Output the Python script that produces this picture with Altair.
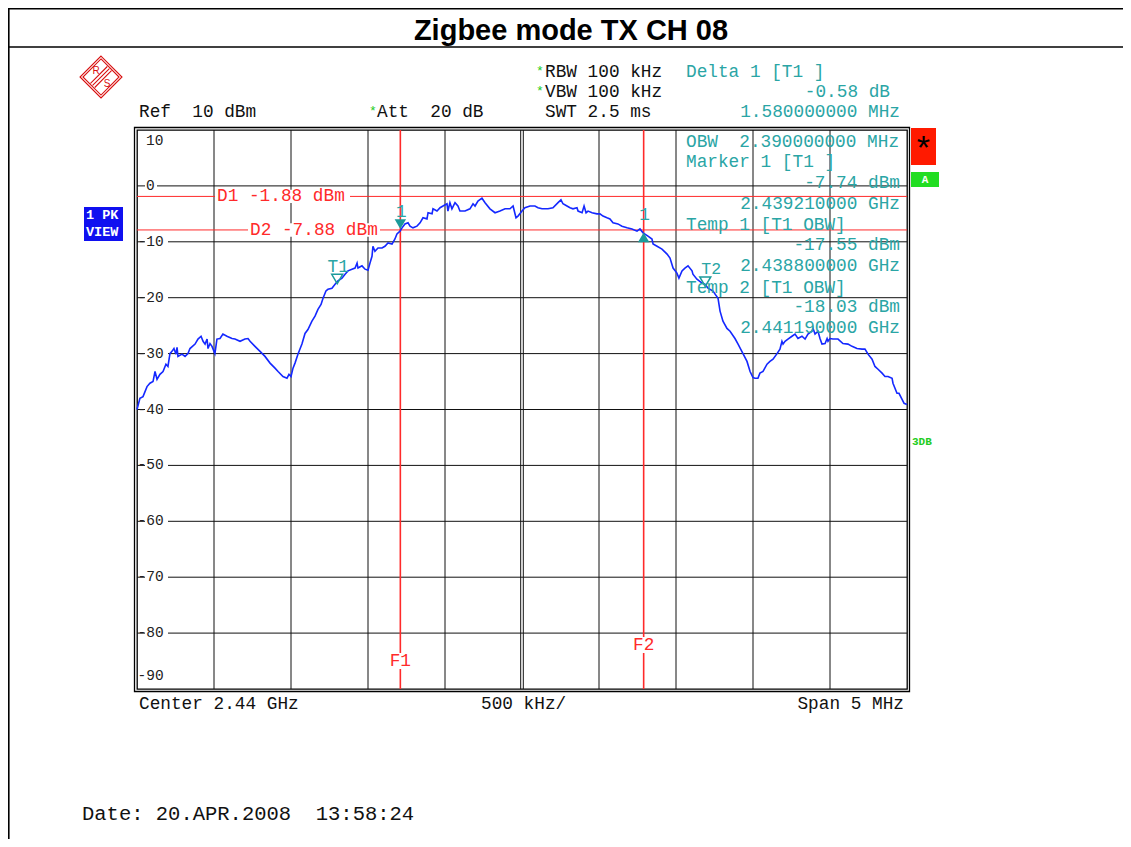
import altair as alt
import pandas as pd

# ---------------- data ----------------
freq_mhz = [
    2437.500, 2437.519, 2437.539, 2437.565, 2437.584, 2437.604, 2437.617, 2437.630, 2437.649, 2437.669,
    2437.688, 2437.701, 2437.714, 2437.727, 2437.740, 2437.753, 2437.760, 2437.766, 2437.792, 2437.812,
    2437.831, 2437.844, 2437.877, 2437.896, 2437.916, 2437.929, 2437.942, 2437.955, 2437.961, 2437.974,
    2437.987, 2438.006, 2438.019, 2438.039, 2438.058, 2438.084, 2438.117, 2438.136, 2438.169, 2438.201,
    2438.221, 2438.234, 2438.266, 2438.299, 2438.331, 2438.364, 2438.396, 2438.416, 2438.448, 2438.474,
    2438.487, 2438.500, 2438.513, 2438.526, 2438.545, 2438.571, 2438.591, 2438.610, 2438.636, 2438.656,
    2438.675, 2438.695, 2438.708, 2438.727, 2438.740, 2438.766, 2438.786, 2438.805, 2438.831, 2438.851,
    2438.870, 2438.896, 2438.916, 2438.929, 2438.935, 2438.961, 2438.981, 2439.000, 2439.013, 2439.026,
    2439.032, 2439.045, 2439.065, 2439.091, 2439.110, 2439.130, 2439.156, 2439.175, 2439.188, 2439.208,
    2439.221, 2439.240, 2439.260, 2439.273, 2439.292, 2439.318, 2439.338, 2439.357, 2439.383, 2439.390,
    2439.416, 2439.422, 2439.448, 2439.468, 2439.487, 2439.513, 2439.519, 2439.532, 2439.545, 2439.565,
    2439.584, 2439.597, 2439.630, 2439.662, 2439.682, 2439.695, 2439.714, 2439.740, 2439.760, 2439.792,
    2439.825, 2439.857, 2439.890, 2439.922, 2439.942, 2439.961, 2439.974, 2440.000, 2440.019, 2440.052,
    2440.084, 2440.104, 2440.130, 2440.169, 2440.201, 2440.234, 2440.253, 2440.266, 2440.292, 2440.312,
    2440.331, 2440.357, 2440.364, 2440.390, 2440.403, 2440.416, 2440.429, 2440.455, 2440.487, 2440.506,
    2440.526, 2440.552, 2440.571, 2440.591, 2440.623, 2440.649, 2440.682, 2440.714, 2440.747, 2440.766,
    2440.786, 2440.818, 2440.844, 2440.851, 2440.877, 2440.909, 2440.942, 2440.961, 2440.981, 2441.006,
    2441.019, 2441.039, 2441.058, 2441.078, 2441.104, 2441.110, 2441.136, 2441.169, 2441.188, 2441.208,
    2441.240, 2441.273, 2441.286, 2441.305, 2441.331, 2441.351, 2441.383, 2441.403, 2441.435, 2441.461,
    2441.481, 2441.500, 2441.513, 2441.532, 2441.545, 2441.565, 2441.591, 2441.610, 2441.630, 2441.656,
    2441.675, 2441.688, 2441.695, 2441.708, 2441.727, 2441.753, 2441.773, 2441.792, 2441.818, 2441.838,
    2441.857, 2441.883, 2441.890, 2441.903, 2441.922, 2441.935, 2441.948, 2441.968, 2441.981, 2441.987,
    2442.000, 2442.019, 2442.052, 2442.084, 2442.117, 2442.143, 2442.175, 2442.208, 2442.227, 2442.247,
    2442.273, 2442.292, 2442.312, 2442.338, 2442.357, 2442.377, 2442.403, 2442.409, 2442.435, 2442.448,
    2442.468, 2442.481, 2442.500,
]
level_dbm = [
    -40.0, -38.0, -37.7, -35.9, -35.3, -35.0, -33.2, -34.6, -33.7, -33.2,
    -31.9, -32.3, -30.0, -29.6, -29.1, -30.1, -28.9, -30.5, -30.1, -30.5,
    -30.0, -29.1, -28.3, -27.4, -26.9, -27.8, -28.3, -27.4, -29.1, -28.2,
    -28.7, -30.0, -27.4, -27.3, -26.5, -26.9, -27.3, -27.4, -27.8, -27.4,
    -27.3, -27.8, -28.7, -29.6, -30.5, -31.7, -32.6, -33.2, -34.1, -34.4,
    -33.7, -34.1, -32.6, -31.7, -30.1, -28.3, -26.4, -25.7, -24.2, -23.3,
    -22.1, -21.2, -20.1, -18.8, -18.5, -18.3, -17.6, -17.0, -16.5, -15.8,
    -15.2, -14.9, -14.7, -13.8, -14.7, -14.3, -14.9, -15.1, -13.8, -12.6,
    -10.8, -11.7, -11.1, -11.1, -10.8, -10.2, -10.4, -9.5, -8.6, -8.1,
    -7.5, -6.8, -6.6, -7.2, -7.5, -7.2, -6.6, -5.7, -5.9, -4.8,
    -5.0, -4.1, -4.5, -3.9, -3.6, -3.2, -4.5, -3.0, -4.1, -3.0,
    -3.6, -4.5, -4.5, -4.1, -3.2, -3.6, -2.7, -2.2, -3.0, -4.1,
    -4.8, -4.5, -4.1, -4.1, -3.6, -5.7, -5.4, -4.5, -3.9, -3.6,
    -3.6, -3.9, -4.1, -4.1, -3.9, -3.0, -2.5, -3.2, -3.6, -3.9,
    -4.1, -3.9, -4.5, -4.8, -3.6, -4.8, -4.5, -4.8, -5.0, -5.0,
    -5.4, -5.7, -5.9, -6.6, -6.8, -7.2, -7.5, -7.7, -8.1, -7.7,
    -8.4, -9.0, -9.5, -10.4, -10.8, -11.3, -12.2, -12.9, -14.7, -15.6,
    -16.5, -15.2, -14.7, -14.3, -15.2, -15.8, -16.7, -17.4, -17.6, -18.3,
    -18.8, -20.1, -22.4, -24.2, -25.5, -26.0, -27.3, -28.3, -30.0, -31.4,
    -33.2, -34.3, -34.4, -34.4, -33.5, -33.2, -31.9, -31.4, -31.0, -30.0,
    -29.2, -27.8, -28.3, -27.8, -27.4, -26.9, -26.5, -27.3, -26.9, -27.4,
    -26.5, -26.0, -25.5, -26.5, -26.0, -27.3, -28.3, -28.2, -27.3, -27.8,
    -27.3, -27.4, -27.4, -28.2, -28.3, -28.7, -29.1, -29.2, -29.2, -30.1,
    -31.0, -32.3, -32.8, -33.5, -34.1, -34.1, -34.4, -35.3, -37.1, -37.1,
    -38.2, -38.9, -39.1,
]

grid_freq = [2438.0, 2438.5, 2439.0, 2439.5, 2440.5, 2441.0, 2441.5, 2442.0]
center_freq = [2440.0]
grid_level = [0, -10, -20, -30, -40, -50, -60, -70, -80]
ytick_values = [10, 0, -10, -20, -30, -40, -50, -60, -70, -80, -90]

marker_labels = ["1", "1", "T1", "T2"]
marker_kind = ["M1", "D1", "T1", "T2"]
marker_freq = [2439.21, 2440.79, 2438.80, 2441.19]
marker_level = [-7.74, -8.32, -17.55, -18.03]

dline_labels = ["D1 -1.88 dBm", "D2 -7.88 dBm"]
dline_levels = [-1.88, -7.88]
fline_labels = ["F1", "F2"]
fline_freq = [2439.21, 2440.79]

# ---------------- helpers ----------------
W, H = 770, 559
OX, OY = 137, 130          # page position of plot origin
MONO = "Liberation Mono"
FS = 17.75
TEAL = "#2aa5a5"
RED = "#ff2a2a"
BLUE = "#1428ff"
NB = "\u00a0"

xs = alt.Scale(domain=[2437.5, 2442.5], nice=False, zero=False)
ys = alt.Scale(domain=[-90, 10], nice=False, zero=False)
one = pd.DataFrame({"k": [0]})


def px(x):
    return x - OX


def py(y):
    return y - OY


def X(f):
    return alt.X(f"{f}:Q", scale=xs, axis=None)


def Y(f):
    return alt.Y(f"{f}:Q", scale=ys, axis=None)


def X2(f):
    return alt.X2(f"{f}:Q")


def Y2(f):
    return alt.Y2(f"{f}:Q")


def T(s, x, y, size=FS, color="#111111", align="left", weight="normal", font=MONO):
    s = s.replace("  ", NB + NB)
    return alt.Chart(one).mark_text(
        text=s, align=align, baseline="middle", fontSize=size, font=font,
        color=color, fontWeight=weight
    ).encode(x=alt.value(px(x)), y=alt.value(py(y)))


def R(x1, y1, x2, y2, fill="white", stroke=None, sw=1.0):
    if fill is None:
        kw = dict(filled=False, fillOpacity=0, stroke=stroke, strokeWidth=sw)
    else:
        kw = dict(fill=fill)
    return alt.Chart(one).mark_rect(**kw).encode(
        x=alt.value(px(x1)), x2=alt.value(px(x2)), y=alt.value(py(y1)), y2=alt.value(py(y2)))


def HL(x1, x2, y, color="black", w=1.0):
    return alt.Chart(one).mark_rule(color=color, strokeWidth=w).encode(
        x=alt.value(px(x1)), x2=alt.value(px(x2)), y=alt.value(py(y)))


def VL(x, y1, y2, color="black", w=1.0):
    return alt.Chart(one).mark_rule(color=color, strokeWidth=w).encode(
        x=alt.value(px(x)), y=alt.value(py(y1)), y2=alt.value(py(y2)))


layers = []

# page frame and title
layers += [
    HL(8, 1131, 8.7, w=1.6),
    HL(8, 1131, 47, w=1.6),
    VL(8.8, 8, 847, w=1.6),
    T("Zigbee mode TX CH 08", 571, 31, size=29, color="black", align="center",
      weight="bold", font="Liberation Sans Narrow, Liberation Sans, Arial"),
]

# grid
grid_v = pd.DataFrame({"f": grid_freq})
grid_c = pd.DataFrame({"f": center_freq})
grid_h = pd.DataFrame({"v": grid_level})
layers += [
    alt.Chart(grid_v).mark_rule(color="#111111", strokeWidth=1).encode(x=X("f")),
    alt.Chart(grid_c).mark_rule(color="#111111", strokeWidth=1, xOffset=-1.3).encode(x=X("f")),
    alt.Chart(grid_c).mark_rule(color="#111111", strokeWidth=1, xOffset=1.3).encode(x=X("f")),
    alt.Chart(grid_h).mark_rule(color="#111111", strokeWidth=1).encode(y=Y("v")),
]

# y tick labels with white boxes
yt = pd.DataFrame({"v": ytick_values})
yt["lab"] = yt["v"].astype(int).astype(str)
yt["lo"] = yt["v"] - 1.15
yt["hi"] = yt["v"] + 1.15
mid = alt.Chart(yt).transform_filter("datum.v <= 0 && datum.v >= -80")
layers += [
    mid.transform_filter("datum.v == 0").mark_rect(fill="white").encode(
        x=alt.value(px(145)), x2=alt.value(px(157)), y=Y("lo"), y2=Y2("hi")),
    mid.transform_filter("datum.v < 0").mark_rect(fill="white").encode(
        x=alt.value(px(145)), x2=alt.value(px(168)), y=Y("lo"), y2=Y2("hi")),
    mid.transform_filter("datum.v == 0").mark_text(
        align="left", baseline="middle", font=MONO, fontSize=14.5, color="#222222").encode(
        x=alt.value(px(146)), y=Y("v"), text="lab:N"),
    mid.transform_filter("datum.v < 0").mark_text(
        align="left", baseline="middle", font=MONO, fontSize=14.5, color="#222222").encode(
        x=alt.value(px(137.5)), y=Y("v"), text="lab:N"),
    alt.Chart(yt).transform_filter("datum.v == 10").mark_text(
        align="left", baseline="middle", font=MONO, fontSize=14.5, color="#222222", dy=11).encode(
        x=alt.value(px(146)), y=Y("v"), text="lab:N"),
    alt.Chart(yt).transform_filter("datum.v == -90").mark_text(
        align="left", baseline="middle", font=MONO, fontSize=14.5, color="#222222", dy=-13).encode(
        x=alt.value(px(137.5)), y=Y("v"), text="lab:N"),
]

# outer double frame
layers.append(R(134.5, 127.5, 909.5, 691.5, fill=None, stroke="black", sw=1.3))

# display lines D1 / D2
dl = pd.DataFrame({"lab": dline_labels, "v": dline_levels})
dl["lo"] = dl["v"] - 1.2
dl["hi"] = dl["v"] + 1.2
layers.append(alt.Chart(dl).mark_rule(color=RED, strokeWidth=1).encode(y=Y("v")))
for i, (x0, x1) in enumerate([(215, 350), (248, 380)]):
    sub = alt.Chart(dl).transform_filter(f"datum.lab == '{dline_labels[i]}'")
    layers += [
        sub.mark_rect(fill="white").encode(x=alt.value(px(x0)), x2=alt.value(px(x1)), y=Y("lo"), y2=Y2("hi")),
        sub.mark_text(align="left", baseline="middle", font=MONO, fontSize=FS, color=RED).encode(
            x=alt.value(px(x0 + 2)), y=Y("v"), text="lab:N"),
    ]

# frequency lines F1 / F2
fl = pd.DataFrame({"lab": fline_labels, "f": fline_freq})
fl["lo"] = fl["f"] - 0.075
fl["hi"] = fl["f"] + 0.075
layers.append(alt.Chart(fl).mark_rule(color=RED, strokeWidth=1.6).encode(x=X("f")))
for i, yy in enumerate([661, 645]):
    sub = alt.Chart(fl).transform_filter(f"datum.lab == '{fline_labels[i]}'")
    layers += [
        sub.mark_rect(fill="white").encode(x=X("lo"), x2=X2("hi"), y=alt.value(py(yy - 8)), y2=alt.value(py(yy + 8))),
        sub.mark_text(align="center", baseline="middle", font=MONO, fontSize=FS, color=RED).encode(
            x=X("f"), y=alt.value(py(yy)), text="lab:N"),
    ]

# trace
tr = pd.DataFrame({"f": freq_mhz, "v": level_dbm})
layers.append(alt.Chart(tr).mark_line(color=BLUE, strokeWidth=1.6).encode(x=X("f"), y=Y("v")))

# markers
mk = pd.DataFrame({"lab": marker_labels, "kind": marker_kind, "f": marker_freq, "v": marker_level})
mkc = alt.Chart(mk)
layers += [
    mkc.transform_filter("datum.kind == 'M1'").mark_point(
        shape="triangle-down", filled=True, color="#1b9a9a", size=130, yOffset=-5, opacity=1).encode(x=X("f"), y=Y("v")),
    mkc.transform_filter("datum.kind == 'D1'").mark_point(
        shape="triangle-up", filled=True, color="#1b9a9a", size=130, yOffset=5, opacity=1).encode(x=X("f"), y=Y("v")),
    mkc.transform_filter("datum.kind == 'T1' || datum.kind == 'T2'").mark_point(
        shape="triangle-down", filled=False, color="#1b9a9a", size=120, yOffset=-5, strokeWidth=1.5, opacity=1).encode(
        x=X("f"), y=Y("v")),
    mkc.transform_filter("datum.kind != 'T2'").mark_text(
        align="center", baseline="middle", font=MONO, fontSize=FS, color=TEAL, dy=-17, dx=1).encode(
        x=X("f"), y=Y("v"), text="lab:N"),
    mkc.transform_filter("datum.kind == 'T2'").mark_text(
        align="center", baseline="middle", font=MONO, fontSize=16.5, color=TEAL, dy=-18, dx=6).encode(
        x=X("f"), y=Y("v"), text="lab:N"),
]

# header texts
GREEN = "#22cc22"
layers += [
    T("*", 536, 71, size=13, color=GREEN),
    T("RBW 100 kHz", 545, 72),
    T("Delta 1 [T1 ]", 686, 72, color=TEAL),
    T("*", 536, 91, size=13, color=GREEN),
    T("VBW 100 kHz", 545, 92),
    T("-0.58 dB", 890, 92, color=TEAL, align="right"),
    T("Ref  10 dBm", 139, 112),
    T("*", 369, 111, size=13, color=GREEN),
    T("Att  20 dB", 377, 112),
    T("SWT 2.5 ms", 545, 112),
    T("1.580000000 MHz", 900, 112, color=TEAL, align="right"),
]

# marker info block
layers += [
    T("OBW  2.390000000 MHz", 686, 142, color=TEAL),
    T("Marker 1 [T1 ]", 686, 162, color=TEAL),
    T("-7.74 dBm", 900, 183, color=TEAL, align="right"),
    T("2.439210000 GHz", 900, 204, color=TEAL, align="right"),
    T("Temp 1 [T1 OBW]", 686, 225, color=TEAL),
    T("-17.55 dBm", 900, 245, color=TEAL, align="right"),
    T("2.438800000 GHz", 900, 266, color=TEAL, align="right"),
    T("Temp 2 [T1 OBW]", 686, 288, color=TEAL),
    T("-18.03 dBm", 900, 307, color=TEAL, align="right"),
    T("2.441190000 GHz", 900, 328, color=TEAL, align="right"),
]

# bottom texts
layers += [
    T("Center 2.44 GHz", 139, 704),
    T("500 kHz/", 481, 704),
    T("Span 5 MHz", 904, 704, align="right"),
    T("Date: 20.APR.2008  13:58:24", 82, 814, size=20.5),
]

# side boxes
layers += [
    R(84, 207, 123, 241, fill="#1010f0"),
    T("1 PK", 86, 215, size=13.5, color="white", weight="bold"),
    T("VIEW", 86, 232, size=13.5, color="white", weight="bold"),
    R(911, 128, 936, 165, fill="#ff1a00"),
    T("*", 923.5, 150, size=34, color="black", align="center"),
    R(911, 172, 939, 187, fill="#22dd22"),
    T("A", 925, 179.5, size=11, color="white", align="center", weight="bold"),
    T("3DB", 912, 442, size=11, color=GREEN, weight="bold"),
]

# R&S logo
logo_path = ("M0,-1L1,0L0,1L-1,0Z M0,-0.86L0.86,0L0,0.86L-0.86,0Z "
             "M-0.5,0.3L0.3,-0.5 M-0.4,0.4L0.4,-0.4 M-0.3,0.5L0.5,-0.3")
layers += [
    alt.Chart(one).mark_point(shape=logo_path, filled=False, color="#d81010", size=1760,
                              strokeWidth=1.1, opacity=1).encode(
        x=alt.value(px(101)), y=alt.value(py(77))),
    T("R", 96, 71, size=10, color="#d81010", align="center", font="Liberation Sans"),
    T("S", 107, 84, size=10, color="#d81010", align="center", font="Liberation Sans"),
]

chart = alt.layer(*layers).properties(
    width=W, height=H,
    padding={"left": OX - 8, "top": OY - 8, "right": 1115 - (OX - 8) - W, "bottom": 831 - (OY - 8) - H},
    autosize=alt.AutoSizeParams(type="none"),
    background="white",
).configure_view(stroke="black", strokeWidth=1.3)

chart.save("out.html", embed_options={"renderer": "svg", "actions": False})
